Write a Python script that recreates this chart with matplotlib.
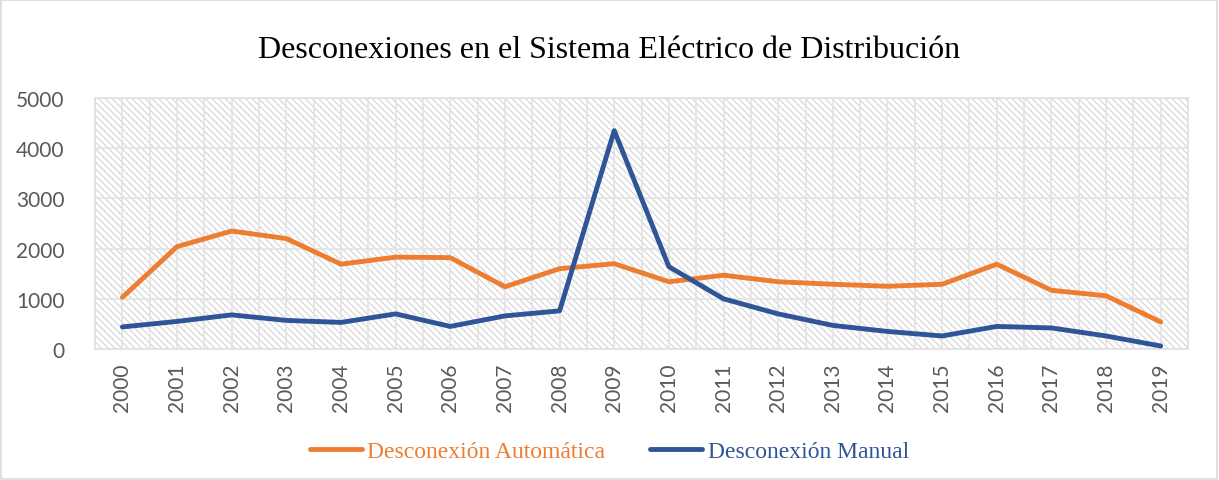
# Desconexiones en el Sistema Eléctrico de Distribución, 2000-2019
import matplotlib.pyplot as plt
from matplotlib.patches import Rectangle

years = [str(y) for y in range(2000, 2020)]
automatica = [1030, 2040, 2350, 2200, 1690, 1830, 1820, 1240, 1600, 1700,
              1340, 1470, 1340, 1290, 1250, 1290, 1690, 1170, 1060, 540]
manual = [440, 550, 680, 570, 530, 700, 450, 660, 760, 4350,
          1640, 1000, 700, 470, 350, 260, 450, 420, 260, 60]

plt.rcParams['hatch.linewidth'] = 0.8

fig = plt.figure(figsize=(12.19, 4.81), dpi=100)
ax = fig.add_axes([0.078, 0.2723, 0.8966, 0.5219])

# hatched plot-area background
ax.add_patch(Rectangle((0, 0), 1, 1, transform=ax.transAxes, facecolor='white',
                       edgecolor='#d4d4d4', lw=0, hatch='\\\\\\\\\\', zorder=0))

x = range(len(years))
ax.plot(x, automatica, color='#ED7D31', lw=3.5, solid_capstyle='round',
        solid_joinstyle='round', label='Desconexión Automática', zorder=3)
ax.plot(x, manual, color='#2F5597', lw=3.5, solid_capstyle='round',
        solid_joinstyle='round', label='Desconexión Manual', zorder=3)

ax.set_xlim(-0.5, len(years) - 0.5)
ax.set_ylim(0, 5000)
ax.set_yticks(range(0, 5001, 1000))
ax.set_xticks(list(x))
ax.set_xticklabels(years, rotation=90)
ax.tick_params(length=0, labelsize=15, labelcolor='#595959')
ax.tick_params(axis='y', pad=22)
ax.tick_params(axis='x', pad=10)
for lbl in ax.get_xticklabels() + ax.get_yticklabels():
    lbl.set_family('Lato')

# gridlines at every half category and every 1000
ax.set_xticks([i - 0.5 for i in range(len(years) + 1)], minor=True)
ax.tick_params(which='minor', length=0)
ax.grid(True, which='both', axis='x', color='#e3e3e3', lw=1.2, zorder=1)
ax.grid(True, which='major', axis='y', color='#e3e3e3', lw=1.2, zorder=1)
ax.set_axisbelow(True)
for s in ax.spines.values():
    s.set_color('#e0e0e0')
    s.set_linewidth(1.2)

fig.text(0.5, 0.895, 'Desconexiones en el Sistema Eléctrico de Distribución',
         ha='center', va='center', fontsize=23, family='Liberation Serif')

leg = fig.legend(loc='center', bbox_to_anchor=(0.5, 0.06), ncol=2, frameon=False,
                 prop={'family': 'Liberation Serif', 'size': 17},
                 handlelength=2.2, handletextpad=0.25, columnspacing=1.9)
for txt, line in zip(leg.get_texts(), leg.get_lines()):
    txt.set_color(line.get_color())

# chart border
fig.add_artist(Rectangle((0.001, 0.002), 0.997, 0.995, transform=fig.transFigure,
                         fill=False, edgecolor='#d9d9d9', lw=1.2))

fig.savefig('out.png', dpi=100)
